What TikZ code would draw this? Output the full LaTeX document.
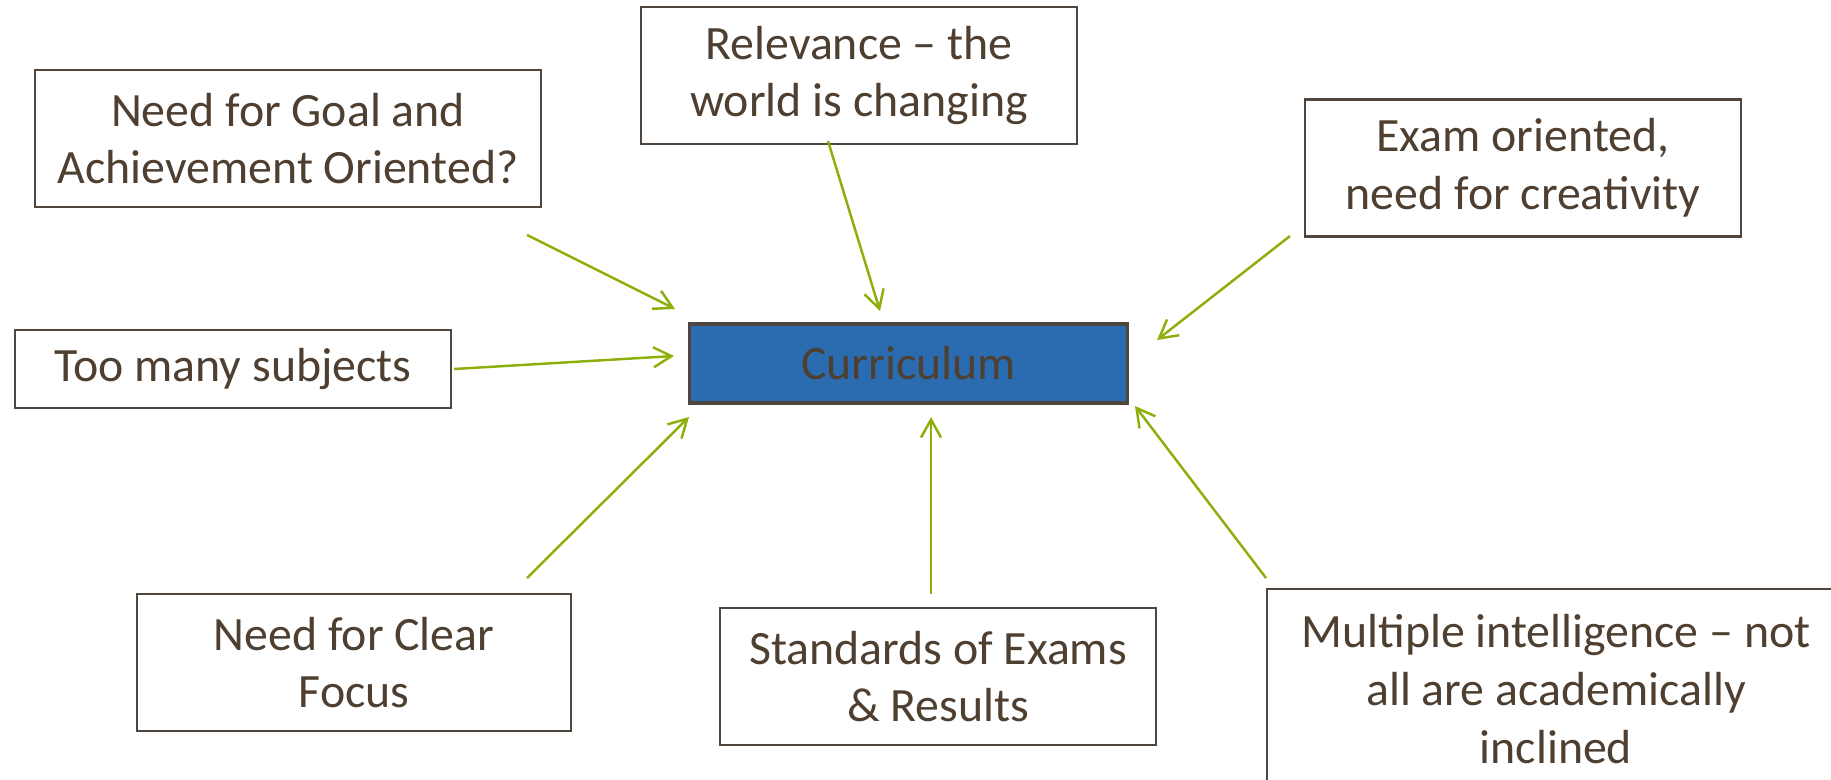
\documentclass[tikz,border=0pt]{standalone}
\usepackage{fontspec}
\setmainfont{Carlito}
\usetikzlibrary{arrows.meta}
\definecolor{textbraun}{HTML}{4E3F31}
\definecolor{rahmen}{HTML}{4F463D}
\definecolor{pfeilgruen}{HTML}{8DAF0B}
\definecolor{kernblau}{HTML}{2B6BB0}
\tikzset{
  feld/.style={draw=rahmen, line width=0.6pt, fill=white, text=textbraun,
    align=center, minimum width=4.36cm, minimum height=1.37cm, inner sep=0pt,
    font=\fontsize{13.6}{16.4}\selectfont},
  pfeil/.style={draw=pfeilgruen, line width=0.7pt,
    -{Straight Barb[length=1.8mm,width=2mm]}}
}

\begin{document}
\begin{tikzpicture}[x=0.01cm,y=-0.01cm]
  \useasboundingbox (0,0) rectangle (1831,779);
  \clip (0,0) rectangle (1831,779);
  % Mittleres Feld
  \node[feld, fill=kernblau, line width=0.9pt, minimum width=4.37cm,
    minimum height=0.79cm] (curric) at (908.5,363.5) {Curriculum};
  % Felder rundherum
  \node[feld, minimum width=5.06cm] (goal) at (288,138.5)
    {Need for Goal and\\Achievement Oriented?};
  \node[feld] (relev) at (859,75.5) {Relevance -- the\\world is changing};
  \node[feld] (exam) at (1523,168) {Exam oriented,\\need for creativity};
  \node[feld, minimum height=0.78cm] (many) at (233,369) {Too many subjects};
  \node[feld, minimum width=4.34cm] (focus) at (354,662.5) {Need for Clear\\Focus};
  \node[feld] (stand) at (938,676.5) {Standards of Exams\\\& Results};
  \node[feld, minimum width=5.78cm, minimum height=2.0cm] (multi) at (1556,689)
    {Multiple intelligence -- not\\all are academically\\inclined};
  % Pfeilenden
  \coordinate (goal-a) at (527,235);   \coordinate (goal-b) at (675,309);
  \coordinate (relev-a) at (828,141);  \coordinate (relev-b) at (880,311);
  \coordinate (exam-a) at (1290,236);  \coordinate (exam-b) at (1157,340);
  \coordinate (many-a) at (454,369);   \coordinate (many-b) at (674,356);
  \coordinate (focus-a) at (527,578);  \coordinate (focus-b) at (689,417);
  \coordinate (stand-a) at (931,594);  \coordinate (stand-b) at (931,417);
  \coordinate (multi-a) at (1266,578); \coordinate (multi-b) at (1135,406);
  % Pfeile
  \foreach \f in {goal,relev,exam,many,focus,stand,multi}
    \draw[pfeil] (\f-a) -- (\f-b);
\end{tikzpicture}
\end{document}
